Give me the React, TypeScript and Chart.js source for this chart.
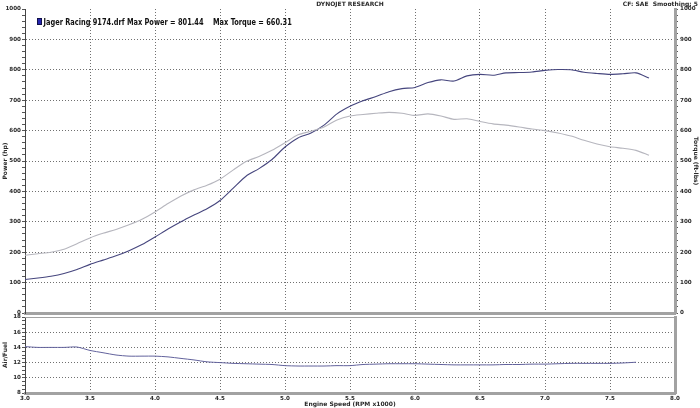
import React, { useEffect, useRef } from 'react';
import { Chart, registerables } from 'chart.js';

Chart.register(...registerables);

// ---- data ----
const rpm = [
  3.0, 3.1, 3.2, 3.3, 3.4, 3.5, 3.6, 3.7, 3.8, 3.9,
  4.0, 4.1, 4.2, 4.3, 4.4, 4.5, 4.6, 4.7, 4.8, 4.9,
  5.0, 5.1, 5.2, 5.3, 5.4, 5.5, 5.6, 5.7, 5.8, 5.9,
  6.0, 6.1, 6.2, 6.3, 6.4, 6.5, 6.6, 6.7, 6.8, 6.9,
  7.0, 7.1, 7.2, 7.3, 7.4, 7.5, 7.6, 7.7, 7.8,
];
const powerHp = [
  110, 115, 121, 130, 143, 160, 174, 188, 205, 225,
  250, 276, 300, 322, 343, 370, 410, 450, 475, 505,
  546, 576, 592, 618, 655, 680, 698, 712, 728, 738,
  742, 758, 767, 763, 780, 785, 782, 790, 791, 793,
  798, 801, 800, 792, 788, 785, 787, 790, 773,
];
const torqueFtLbs = [
  190, 195, 200, 210, 228, 247, 262, 275, 290, 308,
  332, 360, 385, 405, 420, 440, 470, 498, 515, 535,
  560, 586, 598, 612, 635, 648, 653, 657, 660, 657,
  650, 655, 648, 637, 639, 630, 622, 618, 612, 605,
  600, 592, 582, 568, 556, 547, 542, 535, 519,
];
const afrRpm = [
  3.0, 3.1, 3.2, 3.3, 3.4, 3.5, 3.6, 3.7, 3.8, 3.9,
  4.0, 4.1, 4.2, 4.3, 4.4, 4.5, 4.6, 4.7, 4.8, 4.9,
  5.0, 5.1, 5.2, 5.3, 5.4, 5.5, 5.6, 5.7, 5.8, 5.9,
  6.0, 6.1, 6.2, 6.3, 6.4, 6.5, 6.6, 6.7, 6.8, 6.9,
  7.0, 7.1, 7.2, 7.3, 7.4, 7.5, 7.6, 7.7,
];
const airFuel = [
  14.1, 14.0, 14.0, 14.0, 14.05, 13.6, 13.3, 13.0, 12.85, 12.85,
  12.85, 12.75, 12.55, 12.35, 12.1, 12.0, 11.9, 11.85, 11.8, 11.75,
  11.6, 11.55, 11.55, 11.55, 11.6, 11.6, 11.75, 11.8, 11.85, 11.85,
  11.85, 11.8, 11.75, 11.7, 11.7, 11.7, 11.7, 11.75, 11.75, 11.8,
  11.8, 11.85, 11.9, 11.9, 11.9, 11.9, 11.95, 12.05,
];

const headerTitle = 'DYNOJET RESEARCH';
const headerRight = 'CF: SAE  Smoothing: 5';
const legendRun = 'Jager Racing 9174.drf Max Power = 801.44';
const legendTorque = 'Max Torque = 660.31';
const powerTitle = 'Power (hp)';
const torqueTitle = 'Torque (ft-lbs)';
const afrTitle = 'Air/Fuel';
const rpmTitle = 'Engine Speed (RPM x1000)';

const FONT = 'DejaVu Sans';
const tickFont = { family: FONT, size: 5.6, weight: 'bold' as const };
const titleFont = { family: FONT, size: 6, weight: 'bold' as const };
const GRID = '#707070';
const FRAME = '#a2a2a2';
const TEXT = '#2a2a2a';

const isHalf = (v: number) => Math.abs(v * 2 - Math.round(v * 2)) < 1e-6;
const isHundred = (v: number) => Math.abs(v % 100) < 1e-6;
const isEven = (v: number) => Math.abs(v / 2 - Math.round(v / 2)) < 1e-6;

const headerPlugin = {
  id: 'dynoHeader',
  afterDraw(chart: any) {
    const ctx = chart.ctx;
    const { left, top } = chart.chartArea;
    ctx.save();
    ctx.fillStyle = TEXT;
    ctx.font = `bold 6px ${FONT}`;
    ctx.textBaseline = 'middle';
    ctx.textAlign = 'center';
    ctx.fillText(headerTitle, chart.width / 2, 4);
    ctx.textAlign = 'right';
    ctx.fillText(headerRight, chart.width - 2, 4);

    // legend box
    const bx = left + 12;
    const by = top + 9;
    ctx.fillStyle = '#2626b0';
    ctx.fillRect(bx, by, 5, 7);
    ctx.strokeStyle = '#10104a';
    ctx.lineWidth = 1;
    ctx.strokeRect(bx + 0.5, by + 0.5, 4, 6);

    // legend text (horizontally condensed like the original)
    ctx.fillStyle = '#111';
    ctx.font = `bold 9px ${FONT}`;
    ctx.textAlign = 'left';
    ctx.textBaseline = 'alphabetic';
    const w1 = ctx.measureText(legendRun).width;
    const sx = 160 / w1;
    ctx.save();
    ctx.translate(bx + 6.5, by + 7);
    ctx.scale(sx, 1);
    ctx.fillText(legendRun, 0, 0);
    ctx.restore();
    ctx.save();
    ctx.translate(left + 188, by + 7);
    ctx.scale(sx, 1);
    ctx.fillText(legendTorque, 0, 0);
    ctx.restore();
    ctx.restore();
  },
};

const panelTopPlugin = {
  id: 'panelTop',
  afterDraw(chart: any) {
    const ctx = chart.ctx;
    const { left, right, top } = chart.chartArea;
    ctx.save();
    ctx.strokeStyle = FRAME;
    ctx.lineWidth = 1;
    ctx.beginPath();
    ctx.moveTo(left, top + 0.5);
    ctx.lineTo(right, top + 0.5);
    ctx.stroke();
    ctx.restore();
  },
};

export default function App() {
  const topRef = useRef<HTMLCanvasElement | null>(null);
  const botRef = useRef<HTMLCanvasElement | null>(null);

  useEffect(() => {
    const topChart = new Chart(topRef.current as HTMLCanvasElement, {
      type: 'line',
      data: {
        datasets: [
          {
            label: 'Torque',
            data: rpm.map((r, i) => ({ x: r, y: torqueFtLbs[i] })),
            yAxisID: 'yT',
            borderColor: '#b6b6be',
            borderWidth: 1.1,
            pointRadius: 0,
            tension: 0.25,
          },
          {
            label: 'Power',
            data: rpm.map((r, i) => ({ x: r, y: powerHp[i] })),
            yAxisID: 'yP',
            borderColor: '#46467e',
            borderWidth: 1.1,
            pointRadius: 0,
            tension: 0.25,
          },
        ],
      },
      options: {
        responsive: false,
        animation: false,
        events: [],
        layout: { padding: { top: 9, bottom: 92, left: 0, right: 0 } },
        plugins: { legend: { display: false }, tooltip: { enabled: false } },
        scales: {
          x: {
            type: 'linear',
            min: 3,
            max: 8,
            ticks: { display: false, stepSize: 0.5 },
            grid: { color: GRID, drawTicks: false },
            border: { color: FRAME, width: 3, dash: [1, 2] },
            afterFit: (s: any) => { s.height = 3; s.paddingLeft = 0; s.paddingRight = 0; },
          },
          yP: {
            type: 'linear',
            position: 'left',
            min: 0,
            max: 1000,
            ticks: {
              stepSize: 20,
              autoSkip: false,
              padding: 1,
              font: tickFont,
              color: TEXT,
              callback: (v: any) => (isHundred(Number(v)) ? String(v) : ''),
            },
            grid: {
              color: (c: any) => (c.tick && isHundred(c.tick.value) && c.tick.value !== 1000 ? GRID : 'rgba(0,0,0,0)'),
              tickColor: '#555',
              tickLength: 3,
            },
            border: { color: '#444', width: 1, dash: [1, 2] },
            title: { display: true, text: powerTitle, font: titleFont, color: TEXT, padding: { top: 2, bottom: 0 } },
            afterFit: (s: any) => { s.width = 25; s.paddingTop = 0; s.paddingBottom = 0; },
          },
          yT: {
            type: 'linear',
            position: 'right',
            min: 0,
            max: 1000,
            ticks: {
              stepSize: 20,
              autoSkip: false,
              padding: 2,
              font: tickFont,
              color: TEXT,
              callback: (v: any) => (isHundred(Number(v)) ? String(v) : ''),
            },
            grid: { drawOnChartArea: false, tickColor: '#555', tickLength: 3 },
            border: { color: FRAME, width: 3 },
            title: { display: true, text: torqueTitle, font: titleFont, color: TEXT, padding: { top: 1, bottom: 0 } },
            afterFit: (s: any) => { s.width = 25; s.paddingTop = 0; s.paddingBottom = 0; },
          },
        },
      } as any,
      plugins: [headerPlugin],
    });

    const botChart = new Chart(botRef.current as HTMLCanvasElement, {
      type: 'line',
      data: {
        datasets: [
          {
            label: 'Air/Fuel',
            data: afrRpm.map((r, i) => ({ x: r, y: airFuel[i] })),
            yAxisID: 'y',
            borderColor: '#62629c',
            borderWidth: 1,
            pointRadius: 0,
            tension: 0.25,
          },
        ],
      },
      options: {
        responsive: false,
        animation: false,
        events: [],
        layout: { padding: { top: 317, bottom: 0, left: 0, right: 0 } },
        plugins: { legend: { display: false }, tooltip: { enabled: false } },
        scales: {
          x: {
            type: 'linear',
            min: 3,
            max: 8,
            ticks: {
              stepSize: 0.1,
              autoSkip: false,
              maxRotation: 0,
              padding: 0,
              font: tickFont,
              color: TEXT,
              callback: (v: any) => (isHalf(Number(v)) ? Number(v).toFixed(1) : ''),
            },
            grid: {
              color: (c: any) => (c.tick && isHalf(c.tick.value) ? GRID : 'rgba(0,0,0,0)'),
              tickColor: '#666',
              tickLength: 2,
            },
            border: { color: FRAME, width: 3, dash: [1, 2] },
            title: { display: true, text: rpmTitle, font: titleFont, color: TEXT, padding: 0 },
            afterFit: (s: any) => { s.height = 15; s.paddingLeft = 0; s.paddingRight = 0; },
          },
          y: {
            type: 'linear',
            position: 'left',
            min: 8,
            max: 18,
            ticks: {
              stepSize: 0.5,
              autoSkip: false,
              padding: 1,
              font: tickFont,
              color: TEXT,
              callback: (v: any) => (isEven(Number(v)) ? String(v) : ''),
            },
            grid: {
              color: (c: any) => (c.tick && isEven(c.tick.value) && c.tick.value !== 18 ? GRID : 'rgba(0,0,0,0)'),
              tickColor: '#555',
              tickLength: 3,
            },
            border: { color: '#444', width: 1, dash: [1, 2] },
            title: { display: true, text: afrTitle, font: titleFont, color: TEXT, padding: { top: 2, bottom: 0 } },
            afterFit: (s: any) => { s.width = 25; s.paddingTop = 0; s.paddingBottom = 0; },
          },
          yR: {
            type: 'linear',
            position: 'right',
            min: 8,
            max: 18,
            ticks: { display: false },
            grid: { display: false },
            border: { color: FRAME, width: 3 },
            afterFit: (s: any) => { s.width = 25; s.paddingTop = 0; s.paddingBottom = 0; },
          },
        },
      } as any,
      plugins: [panelTopPlugin],
    });

    return () => {
      topChart.destroy();
      botChart.destroy();
    };
  }, []);

  const canvasStyle: React.CSSProperties = { position: 'absolute', left: 0, top: 0, width: 700, height: 408 };
  return (
    <div style={{ position: 'fixed', left: 0, top: 0, width: 700, height: 408, background: '#fff' }}>
      <canvas ref={topRef} width={700} height={408} style={canvasStyle} />
      <canvas ref={botRef} width={700} height={408} style={canvasStyle} />
    </div>
  );
}
